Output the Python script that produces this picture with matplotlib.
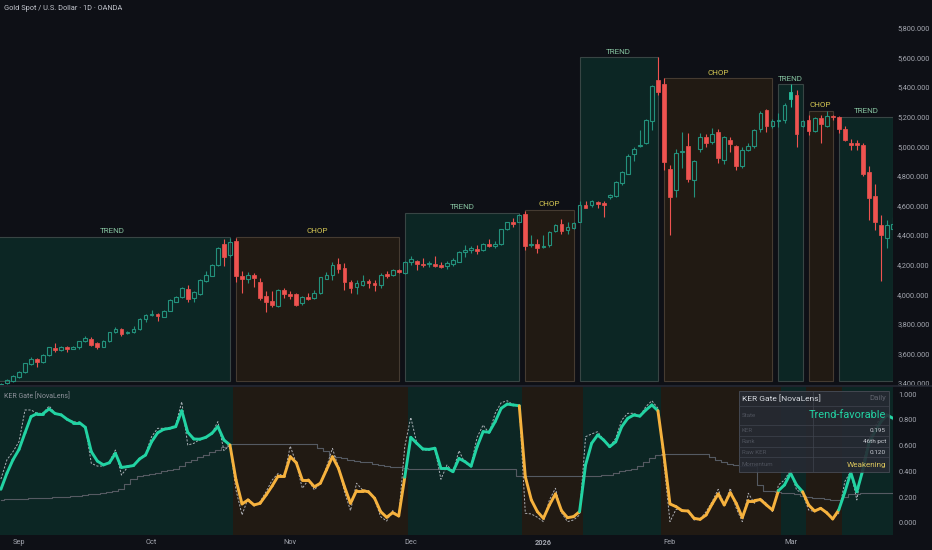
import numpy as np
import pandas as pd
import matplotlib
matplotlib.use("Agg")
import matplotlib.pyplot as plt
from matplotlib.patches import Rectangle
from matplotlib.collections import LineCollection
import matplotlib.ticker as mticker

plt.rcParams['font.family'] = ['Roboto', 'DejaVu Sans']

# ---------------- data ----------------
opens = [3390, 3398, 3413, 3440, 3472, 3528, 3560, 3542, 3587, 3636,
         3622, 3643, 3632, 3645, 3682, 3700, 3668, 3645, 3683, 3743,
         3765, 3735, 3745, 3763, 3833, 3858, 3865, 3849, 3888, 3950,
         3979, 4035, 3973, 4000, 4090, 4126, 4198, 4337, 4263, 4362,
         4123, 4105, 4128, 4081, 3986, 3956, 3918, 4027, 4004, 4002,
         3938, 3980, 3973, 4007, 4106, 4128, 4203, 4176, 4081, 4047,
         4060, 4090, 4079, 4060, 4140, 4130, 4163, 4145, 4219, 4226,
         4205, 4203, 4206, 4197, 4190, 4202, 4220, 4283, 4297, 4307,
         4296, 4337, 4328, 4337, 4440, 4488, 4490, 4540, 4335, 4340,
         4318, 4330, 4425, 4475, 4432, 4450, 4490, 4600, 4600, 4622,
         4620, 4655, 4665, 4755, 4815, 4945, 5000, 5025, 5170, 5445,
         5420, 4845, 4705, 4960, 5000, 4775, 4980, 5060, 5030, 5100,
         4910, 5040, 5000, 4870, 4975, 5000, 5115, 5245, 5135, 5170,
         5180, 5320, 5345, 5140, 5180, 5105, 5190, 5140, 5205, 5200,
         5118, 5020, 5020, 5010, 4825, 4665, 4470, 4380, 4440]
highs = [3398, 3428, 3452, 3480, 3538, 3578, 3567, 3595, 3645, 3670,
         3648, 3650, 3648, 3686, 3715, 3712, 3675, 3688, 3748, 3780,
         3770, 3752, 3782, 3840, 3865, 3892, 3872, 3892, 3966, 3988,
         4050, 4062, 4022, 4104, 4160, 4204, 4320, 4371, 4378, 4380,
         4160, 4152, 4145, 4108, 4024, 4024, 4035, 4042, 4024, 4010,
         3985, 4010, 4029, 4118, 4148, 4216, 4243, 4213, 4096, 4096,
         4130, 4101, 4096, 4141, 4159, 4170, 4168, 4222, 4260, 4232,
         4243, 4227, 4258, 4220, 4227, 4243, 4290, 4330, 4327, 4333,
         4345, 4371, 4357, 4442, 4490, 4515, 4545, 4560, 4400, 4371,
         4400, 4425, 4472, 4506, 4486, 4485, 4628, 4630, 4640, 4630,
         4630, 4680, 4765, 4830, 4945, 4998, 5110, 5185, 5415, 5602,
         5459, 4876, 4985, 5100, 5088, 4905, 5088, 5081, 5122, 5115,
         5070, 5060, 5010, 4994, 5020, 5115, 5240, 5255, 5185, 5227,
         5295, 5419, 5383, 5180, 5210, 5200, 5215, 5239, 5215, 5205,
         5140, 5050, 5040, 5025, 4870, 4745, 4535, 4500, 4520]
lows = [3386, 3393, 3408, 3435, 3468, 3522, 3505, 3538, 3582, 3610,
        3618, 3610, 3628, 3630, 3676, 3650, 3632, 3640, 3678, 3738,
        3718, 3728, 3740, 3758, 3815, 3852, 3820, 3845, 3884, 3945,
        3975, 3948, 3948, 3995, 4085, 4120, 4192, 4192, 4255, 4081,
        4007, 4073, 4046, 3962, 3882, 3911, 3912, 3972, 3966, 3920,
        3930, 3961, 3966, 4002, 4101, 4096, 4145, 4029, 4006, 4002,
        4056, 4040, 4024, 4044, 4108, 4125, 4145, 4140, 4200, 4164,
        4186, 4182, 4186, 4175, 4173, 4190, 4215, 4250, 4280, 4270,
        4290, 4317, 4312, 4330, 4435, 4455, 4485, 4300, 4321, 4277,
        4310, 4318, 4418, 4410, 4407, 4440, 4485, 4580, 4590, 4585,
        4520, 4645, 4660, 4740, 4810, 4903, 4995, 5015, 5110, 5345,
        4840, 4400, 4660, 4850, 4761, 4660, 4964, 4993, 5016, 4885,
        4880, 4964, 4840, 4856, 4965, 4990, 5100, 5095, 5125, 5133,
        5156, 5269, 4998, 5130, 5075, 5095, 5020, 5130, 5180, 5090,
        5035, 4975, 4975, 4800, 4500, 4435, 4090, 4310, 4400]
closes = [3393, 3418, 3447, 3475, 3533, 3560, 3542, 3590, 3640, 3623,
          3642, 3630, 3643, 3682, 3702, 3660, 3645, 3683, 3744, 3767,
          3730, 3748, 3765, 3835, 3860, 3865, 3852, 3888, 3961, 3983,
          4044, 3970, 4017, 4099, 4129, 4198, 4315, 4254, 4355, 4123,
          4100, 4128, 4112, 3973, 3948, 3927, 4029, 4004, 3990, 3927,
          3979, 3966, 4007, 4115, 4128, 4196, 4169, 4085, 4040, 4074,
          4088, 4079, 4063, 4133, 4122, 4163, 4152, 4218, 4235, 4203,
          4199, 4212, 4192, 4185, 4210, 4232, 4283, 4300, 4310, 4292,
          4337, 4323, 4339, 4438, 4485, 4472, 4533, 4325, 4340, 4315,
          4325, 4420, 4465, 4430, 4455, 4480, 4600, 4585, 4630, 4610,
          4600, 4670, 4760, 4825, 4935, 4985, 5010, 5180, 5410, 5370,
          4895, 4660, 4955, 4970, 4780, 4900, 5065, 5020, 5085, 4920,
          5060, 5015, 4870, 4975, 5000, 5110, 5225, 5135, 5170, 5180,
          5280, 5365, 5085, 5170, 5105, 5190, 5150, 5205, 5195, 5115,
          5045, 5010, 5010, 4810, 4650, 4485, 4400, 4470, 4475]

ker_smooth = [0.26, 0.385, 0.49, 0.57, 0.70, 0.826, 0.85, 0.85, 0.886, 0.85,
              0.84, 0.805, 0.78, 0.78, 0.743, 0.553, 0.48, 0.45, 0.467, 0.54,
              0.43, 0.437, 0.445, 0.496, 0.527, 0.63, 0.70, 0.727, 0.735, 0.748,
              0.872, 0.704, 0.652, 0.65, 0.665, 0.696, 0.748, 0.644, 0.605, 0.333,
              0.146, 0.177, 0.138, 0.151, 0.216, 0.286, 0.364, 0.364, 0.514, 0.467,
              0.333, 0.333, 0.28, 0.307, 0.41, 0.514, 0.424, 0.28, 0.151, 0.25,
              0.25, 0.24, 0.19, 0.086, 0.042, 0.078, 0.052, 0.354, 0.665, 0.618,
              0.574, 0.571, 0.58, 0.424, 0.424, 0.397, 0.50, 0.475, 0.44, 0.592,
              0.709, 0.705, 0.787, 0.891, 0.924, 0.917, 0.911, 0.358, 0.177, 0.086,
              0.034, 0.138, 0.224, 0.094, 0.039, 0.047, 0.086, 0.45, 0.618, 0.683,
              0.644, 0.592, 0.63, 0.748, 0.813, 0.839, 0.83, 0.878, 0.917, 0.872,
              0.527, 0.146, 0.125, 0.094, 0.091, 0.034, 0.026, 0.06, 0.146, 0.224,
              0.138, 0.234, 0.15, 0.04, 0.172, 0.172, 0.18, 0.138, 0.099, 0.25,
              0.294, 0.385, 0.294, 0.241, 0.138, 0.091, 0.112, 0.078, 0.029, 0.099,
              0.237, 0.39, 0.241, 0.41, 0.618, 0.709, 0.787, 0.839, 0.813]
ker_raw = [0.34, 0.49, 0.553, 0.631, 0.878, 0.878, 0.852, 0.852, 0.909, 0.852,
           0.839, 0.805, 0.787, 0.779, 0.748, 0.462, 0.441, 0.441, 0.475, 0.566,
           0.371, 0.431, 0.441, 0.501, 0.535, 0.670, 0.735, 0.735, 0.740, 0.761,
           0.942, 0.605, 0.618, 0.649, 0.665, 0.696, 0.787, 0.561, 0.605, 0.255,
           0.060, 0.190, 0.130, 0.164, 0.242, 0.332, 0.384, 0.358, 0.597, 0.462,
           0.268, 0.332, 0.255, 0.307, 0.431, 0.579, 0.431, 0.242, 0.094, 0.307,
           0.255, 0.249, 0.182, 0.047, 0.013, 0.094, 0.047, 0.592, 0.821, 0.618,
           0.566, 0.566, 0.579, 0.338, 0.449, 0.397, 0.561, 0.462, 0.449, 0.665,
           0.761, 0.696, 0.852, 0.935, 0.950, 0.917, 0.911, 0.073, 0.068, 0.042,
           0.008, 0.177, 0.268, 0.078, 0.008, 0.021, 0.060, 0.670, 0.691, 0.709,
           0.644, 0.592, 0.657, 0.800, 0.852, 0.852, 0.831, 0.904, 0.950, 0.891,
           0.462, 0.008, 0.104, 0.099, 0.086, 0.021, 0.026, 0.086, 0.164, 0.260,
           0.138, 0.268, 0.112, 0.008, 0.229, 0.151, 0.190, 0.151, 0.086, 0.294,
           0.333, 0.41, 0.255, 0.229, 0.099, 0.086, 0.112, 0.068, 0.034, 0.073,
           0.32, 0.40, 0.177, 0.46, 0.65, 0.75, 0.82, 0.85, 0.80]
ker_gate = [0.18, 0.181, 0.183, 0.185, 0.187, 0.19, 0.192, 0.194, 0.196, 0.198,
            0.20, 0.203, 0.206, 0.21, 0.214, 0.22, 0.226, 0.232, 0.24, 0.25,
            0.26, 0.30, 0.34, 0.36, 0.37, 0.38, 0.39, 0.40, 0.41, 0.42,
            0.44, 0.47, 0.49, 0.51, 0.53, 0.55, 0.57, 0.59, 0.61, 0.61,
            0.61, 0.61, 0.61, 0.61, 0.61, 0.61, 0.61, 0.61, 0.61, 0.61,
            0.61, 0.61, 0.61, 0.58, 0.56, 0.52, 0.51, 0.50, 0.49, 0.48,
            0.475, 0.47, 0.46, 0.45, 0.44, 0.435, 0.43, 0.425, 0.42, 0.42,
            0.42, 0.42, 0.42, 0.42, 0.42, 0.42, 0.42, 0.42, 0.42, 0.42,
            0.42, 0.42, 0.42, 0.42, 0.42, 0.42, 0.365, 0.365, 0.365, 0.365,
            0.365, 0.365, 0.365, 0.365, 0.365, 0.365, 0.365, 0.365, 0.365, 0.365,
            0.37, 0.375, 0.385, 0.40, 0.41, 0.42, 0.44, 0.47, 0.50, 0.53,
            0.535, 0.535, 0.535, 0.535, 0.535, 0.535, 0.535, 0.535, 0.51, 0.49,
            0.475, 0.46, 0.45, 0.445, 0.44, 0.44, 0.29, 0.25, 0.245, 0.24,
            0.235, 0.23, 0.22, 0.21, 0.20, 0.195, 0.19, 0.185, 0.18, 0.18,
            0.20, 0.22, 0.225, 0.23, 0.23, 0.23, 0.23, 0.23, 0.23]

zone_kind = ["TREND", "CHOP", "TREND", "CHOP", "TREND", "CHOP", "TREND", "CHOP", "TREND"]
zone_start = [-1, 39, 67, 87, 96, 110, 129, 134, 139]
zone_end = [38, 66, 86, 95, 109, 128, 133, 138, 148]
zone_top = [4387, 4387, 4551, 4570, 5602, 5459, 5419, 5239, 5200]
zone_bottom = 3415

filled_bar = [131]  # solid teal candle

price_ticks = [3400, 3600, 3800, 4000, 4200, 4400, 4600, 4800, 5000, 5200, 5400, 5600, 5800]
ker_ticks = [0.0, 0.2, 0.4, 0.6, 0.8, 1.0]

title = "Gold Spot / U.S. Dollar \u00b7 1D \u00b7 OANDA"
pane_label = "KER Gate [NovaLens]"
table_title = "KER Gate [NovaLens]"
table_tf = "Daily"
table_labels = ["State", "KER", "Rank", "Raw KER", "Momentum"]
table_values = ["Trend-favorable", "0.195", "46th pct", "0.120", "Weakening"]

n = len(opens)
dates = pd.bdate_range("2025-08-27", periods=n, freq="C",
                       holidays=["2025-12-25", "2026-01-01"])

# ---------------- style ----------------
BG = "#0e1016"
TEAL_BOX = "#0c2624"
BROWN_BOX = "#211a13"
TEAL_EDGE = "#384544"
BROWN_EDGE = "#453b31"
UP = "#23917c"
DOWN = "#ef5350"
FILLED_UP = "#26c2a0"
LINE_TEAL = "#22d3a3"
LINE_ORANGE = "#f6b23e"
AXIS_TXT = "#a3a6af"

W, H = 932, 550
fig = plt.figure(figsize=(W / 100, H / 100), dpi=100, facecolor=BG)

def px_axes(x0, y0, x1, y1):
    return fig.add_axes([x0 / W, 1 - y1 / H, (x1 - x0) / W, (y1 - y0) / H])

ax = px_axes(0, 0, 893, 385)
axl = px_axes(0, 387, 893, 535)
for a in (ax, axl):
    a.set_facecolor(BG)
    for s in a.spines.values():
        s.set_visible(False)
    a.set_xlim(-0.15, 148.0)

x = np.arange(n)

# ---------------- main pane ----------------
ax.set_ylim(3386.5, 5989)
for k, s, e, top in zip(zone_kind, zone_start, zone_end, zone_top):
    trend = k == "TREND"
    ax.add_patch(Rectangle((s, zone_bottom), e - s, top - zone_bottom,
                           facecolor=TEAL_BOX if trend else BROWN_BOX,
                           edgecolor=TEAL_EDGE if trend else BROWN_EDGE,
                           lw=0.8, zorder=1))
    ax.annotate(k, xy=((s + e) / 2, top), xytext=(0, 2.5), textcoords="offset pixels",
                ha="center", va="bottom", fontsize=5.8,
                color="#86c3a0" if trend else "#d9cb55", zorder=3)

bw = 0.62
for i in range(n):
    o, h, l, c = opens[i], highs[i], lows[i], closes[i]
    up = c >= o
    col = UP if up else DOWN
    lo_b, hi_b = min(o, c), max(o, c)
    if hi_b - lo_b < 5:
        mid = (hi_b + lo_b) / 2
        lo_b, hi_b = mid - 2.5, mid + 2.5
    if i in filled_bar:
        col = FILLED_UP
        ax.add_patch(Rectangle((i - bw / 2, lo_b), bw, hi_b - lo_b, facecolor=col,
                               edgecolor=col, lw=0.6, zorder=4))
    elif up:
        ax.add_patch(Rectangle((i - bw / 2, lo_b), bw, hi_b - lo_b, facecolor="none",
                               edgecolor=col, lw=0.8, zorder=4))
    else:
        ax.add_patch(Rectangle((i - bw / 2, lo_b), bw, hi_b - lo_b, facecolor=col,
                               edgecolor=col, lw=0.5, zorder=4))
    ax.vlines(i, hi_b, h, color=col, lw=0.8, zorder=3)
    ax.vlines(i, l, lo_b, color=col, lw=0.8, zorder=3)

ax.yaxis.tick_right()
ax.set_yticks(price_ticks)
ax.yaxis.set_major_formatter(mticker.FuncFormatter(lambda v, p: f"{v:,.3f}"))
ax.tick_params(axis="y", length=0, pad=3, labelsize=5.3, labelcolor=AXIS_TXT)
ax.tick_params(axis="x", length=0, labelbottom=False)
ax.set_xticks([])
for lab in ax.get_yticklabels():
    lab.set_horizontalalignment("left")

# ---------------- lower pane ----------------
axl.set_ylim(-0.096, 1.057)
chop_bar = np.zeros(n, dtype=bool)
for k, s, e in zip(zone_kind, zone_start, zone_end):
    if k == "CHOP":
        chop_bar[max(s, 0):min(e + 1, n - 1) + 1] = True
i0 = 0
for i in range(1, n + 1):
    if i == n or chop_bar[i] != chop_bar[i0]:
        axl.axvspan(i0 - 0.5, i - 0.5, color=BROWN_BOX if chop_bar[i0] else TEAL_BOX,
                    lw=0, zorder=0)
        i0 = i

axl.plot(x, ker_gate, drawstyle="steps-mid", color="#555a62", lw=0.8, zorder=2)
axl.plot(x, ker_raw, color="#c5c8cf", lw=0.7, ls=(0, (2.2, 1.6)), alpha=0.85, zorder=3)
pts = np.column_stack([x, ker_smooth])
segs = np.stack([pts[:-1], pts[1:]], axis=1)
cols = [LINE_ORANGE if chop_bar[i] else LINE_TEAL for i in range(1, n)]
lc = LineCollection(segs, colors=cols, linewidths=2.1, capstyle="round",
                    joinstyle="round", zorder=4)
axl.add_collection(lc)

axl.yaxis.tick_right()
axl.set_yticks(ker_ticks)
axl.yaxis.set_major_formatter(mticker.FuncFormatter(lambda v, p: f"{v:.3f}"))
axl.tick_params(axis="y", length=0, pad=4, labelsize=5.3, labelcolor=AXIS_TXT)
for lab in axl.get_yticklabels():
    lab.set_horizontalalignment("left")

tick_pos, tick_lab = [], []
for i in range(1, n):
    if dates[i].month != dates[i - 1].month:
        tick_pos.append(i)
        tick_lab.append(str(dates[i].year) if dates[i].month == 1 else dates[i].strftime("%b"))
axl.set_xticks(tick_pos)
axl.set_xticklabels(tick_lab)
axl.tick_params(axis="x", length=0, pad=3, labelsize=5.3, labelcolor=AXIS_TXT)
for lab in axl.get_xticklabels():
    if lab.get_text().isdigit():
        lab.set_fontweight("semibold")

# ---------------- overlay (title, separators, table) ----------------
ov = fig.add_axes([0, 0, 1, 1], zorder=10)
ov.set_xlim(0, W)
ov.set_ylim(H, 0)
ov.axis("off")
ov.patch.set_alpha(0)

ov.plot([0, W], [386, 386], color="#252933", lw=1.2)
ov.text(4, 8, title, fontsize=5.3, color="#c3c6ce", va="center", ha="left",
        family=["Liberation Sans Narrow", "Roboto", "DejaVu Sans"])
ov.text(4, 396, pane_label, fontsize=5.0, color="#8d919a", va="center", ha="left")

tx0, tx1, ty0, ty1 = 739, 889, 390.7, 472.3
xmid = 812.7
rows = [405.7, 425, 436, 446.7, 457.3, 472.3]
ov.add_patch(Rectangle((tx0, ty0), tx1 - tx0, ty1 - ty0, facecolor="#262a33",
                       alpha=0.9, edgecolor="none"))
ov.add_patch(Rectangle((tx0, ty0), tx1 - tx0, ty1 - ty0, facecolor="none",
                       edgecolor="#484c56", lw=0.6))
for r in rows[:-1]:
    ov.plot([tx0, tx1], [r, r], color="#40444e", lw=0.5)
ov.plot([xmid, xmid], [ty0, ty1], color="#40444e", lw=0.5)
ov.text(tx0 + 3, (ty0 + rows[0]) / 2, table_title, fontsize=6.0, color="#d7dae0",
        va="center", ha="left")
ov.text(tx1 - 3, (ty0 + rows[0]) / 2, table_tf, fontsize=5.6, color="#5f636d",
        va="center", ha="right")
val_style = [(7.9, LINE_TEAL), (4.6, "#c8cbd2"), (4.6, "#c8cbd2"), (4.6, "#c8cbd2"),
             (5.9, "#d9c45c")]
for j, (lab, val) in enumerate(zip(table_labels, table_values)):
    yc = (rows[j] + rows[j + 1]) / 2
    ov.text(tx0 + 3, yc, lab, fontsize=4.4, color="#4e525c", va="center", ha="left")
    fs, colr = val_style[j]
    ov.text(tx1 - 3, yc, val, fontsize=fs, color=colr, va="center", ha="right")

fig.savefig("out.png", dpi=100, facecolor=BG)
